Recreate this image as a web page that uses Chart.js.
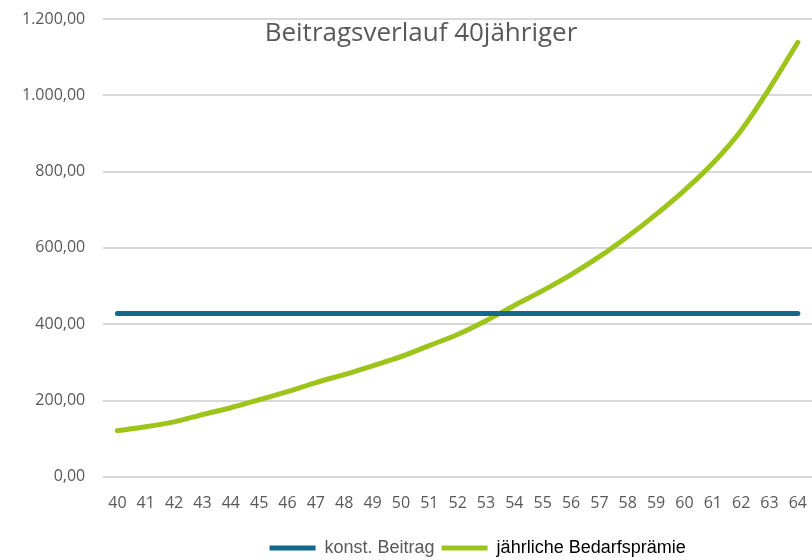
<!DOCTYPE html>
<html>
<head>
<meta charset="utf-8">
<script src="https://cdn.jsdelivr.net/npm/chart.js@4.4.1/dist/chart.umd.min.js"></script>
<style>
  html, body { margin: 0; padding: 0; background: #fff; overflow: hidden; }
  #wrap { width: 816px; height: 560px; position: relative; }
</style>
</head>
<body>
<div id="wrap"><canvas id="myChart"></canvas></div>
<script>
// Alter (x-Achse)
var ages = ['40','41','42','43','44','45','46','47','48','49','50','51','52',
            '53','54','55','56','57','58','59','60','61','62','63','64'];
// konstanter Beitrag
var konstBeitrag = [428,428,428,428,428,428,428,428,428,428,428,428,428,
                    428,428,428,428,428,428,428,428,428,428,428,428];
// jaehrliche Bedarfspraemie
var bedarfspraemie = [121,131,144,163,181,202,223,247,268,291,315,344,373,
                      409,449,488,530,577,630,688,751,822,908,1018,1139];
var yTicks = [0,200,400,600,800,1000,1200];

var blue = '#13698b';
var green = '#9dc41a';
var gray = '#595959';

function deNum(v) {
  var s = v.toFixed(2).split('.');
  var intPart = s[0].replace(/\B(?=(\d{3})+(?!\d))/g, '.');
  return intPart + ',' + s[1];
}

// Titel liegt im Diagramm selbst
var titlePlugin = {
  id: 'innerTitle',
  afterDraw: function(chart) {
    var ctx = chart.ctx;
    ctx.save();
    ctx.font = '26px "Open Sans"';
    ctx.fillStyle = gray;
    ctx.textAlign = 'center';
    ctx.textBaseline = 'middle';
    ctx.fillText('Beitragsverlauf 40jähriger', 421, 34);
    ctx.restore();
  }
};

// Legende etwas nach rechts schieben wie im Original
var legendShift = {
  id: 'legendShift',
  afterLayout: function(chart) {
    if (chart.legend) {
      chart.legend.left += 20;
      chart.legend.right += 20;
    }
  }
};

var ctx = document.getElementById('myChart').getContext('2d');
var myChart = new Chart(ctx, {
  type: 'line',
  data: {
    labels: ages,
    datasets: [{
      label: 'konst. Beitrag',
      data: konstBeitrag,
      borderColor: blue,
      backgroundColor: blue,
      borderWidth: 5,
      borderCapStyle: 'round',
      pointRadius: 0,
      fill: false
    }, {
      label: 'jährliche Bedarfsprämie',
      data: bedarfspraemie,
      borderColor: green,
      backgroundColor: green,
      borderWidth: 5,
      borderCapStyle: 'round',
      pointRadius: 0,
      cubicInterpolationMode: 'monotone',
      fill: false
    }]
  },
  options: {
    responsive: true,
    maintainAspectRatio: false,
    animation: false,
    layout: { padding: { top: 0, right: 0, left: 4, bottom: -7 } },
    scales: {
      x: {
        offset: true,
        grid: { display: false },
        border: { display: false },
        afterFit: function(axis) { axis.height += 10; },
        ticks: {
          color: gray,
          autoSkip: false,
          maxRotation: 0,
          padding: 9,
          font: { family: 'Open Sans', size: 16 }
        }
      },
      y: {
        min: 0,
        max: 1200,
        afterBuildTicks: function(axis) {
          axis.ticks = yTicks.map(function(v) { return { value: v }; });
        },
        afterFit: function(axis) { axis.paddingTop = 19; },
        grid: { color: '#d9d9d9', lineWidth: 2, drawTicks: false },
        border: { display: false },
        ticks: {
          color: gray,
          padding: 18,
          font: { family: 'Open Sans', size: 16 },
          callback: function(v) { return deNum(v); }
        }
      }
    },
    plugins: {
      legend: {
        position: 'bottom',
        fullSize: false,
        labels: {
          boxWidth: 46,
          boxHeight: 5,
          padding: 7,
          font: { family: 'Liberation Sans', size: 18 },
          generateLabels: function(chart) {
            return chart.data.datasets.map(function(ds, i) {
              return {
                text: ds.label,
                fillStyle: ds.borderColor,
                strokeStyle: ds.borderColor,
                lineWidth: 0,
                fontColor: i === 0 ? gray : '#000',
                datasetIndex: i,
                hidden: false
              };
            });
          }
        }
      },
      tooltip: { enabled: false }
    }
  },
  plugins: [titlePlugin, legendShift]
});
</script>
</body>
</html>
